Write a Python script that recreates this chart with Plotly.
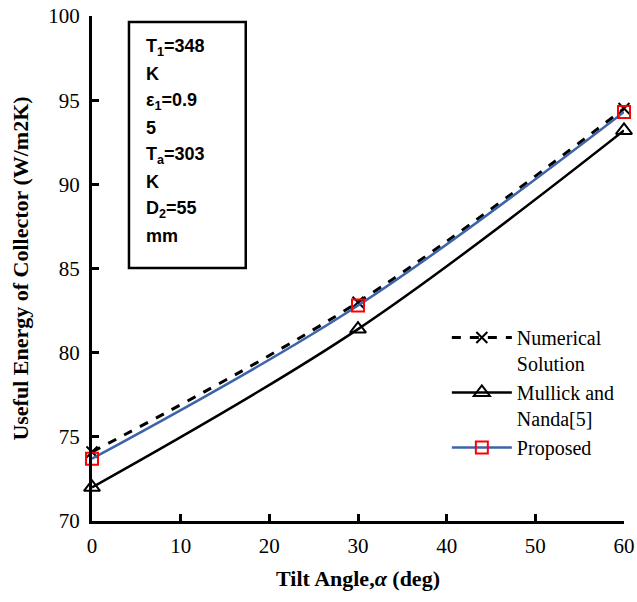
import plotly.graph_objects as go

tilt = [0, 30, 60]
numerical = [74.1, 83.0, 94.5]
mullick = [72.0, 81.4, 93.2]
proposed = [73.7, 82.8, 94.3]

x_ticks = [0, 10, 20, 30, 40, 50, 60]
y_ticks = [70, 75, 80, 85, 90, 95, 100]

box_lines = ["T<sub>1</sub>=348", "K", "ε<sub>1</sub>=0.9", "5",
             "T<sub>a</sub>=303", "K", "D<sub>2</sub>=55", "mm"]

serif = "Liberation Serif"

fig = go.Figure()
fig.add_trace(go.Scatter(
    x=tilt, y=numerical, name="Numerical<br>Solution", mode="lines+markers",
    line=dict(color="black", width=3, dash="dash", shape="spline"),
    marker=dict(symbol="x-thin", size=11, line=dict(color="black", width=2)),
    cliponaxis=False))
fig.add_trace(go.Scatter(
    x=tilt, y=mullick, name="Mullick and<br>Nanda[5]", mode="lines+markers",
    line=dict(color="black", width=2.5, shape="spline"),
    marker=dict(symbol="triangle-up-open", size=14, color="black", line=dict(width=2)),
    cliponaxis=False))
fig.add_trace(go.Scatter(
    x=tilt, y=proposed, name="Proposed", mode="lines+markers",
    line=dict(color="#3d64a8", width=2.5, shape="spline"),
    marker=dict(symbol="square-open", size=12, color="#ff0000", line=dict(width=2)),
    cliponaxis=False))

fig.update_layout(
    width=637, height=602,
    margin=dict(l=92, r=13, t=16, b=81, autoexpand=False),
    paper_bgcolor="white", plot_bgcolor="white",
    font=dict(family=serif, size=21, color="black"),
    showlegend=True,
    legend=dict(x=0.667, y=0.402, xanchor="left", yanchor="top",
                font=dict(family=serif, size=20, color="black"),
                bgcolor="rgba(0,0,0,0)", valign="top", tracegroupgap=0,
                itemwidth=60),
    xaxis=dict(range=[0, 60], tickvals=x_ticks, showgrid=False, zeroline=False,
               showline=True, linecolor="black", linewidth=3, automargin=False,
               ticks="inside", ticklen=7, tickwidth=3, tickcolor="black",
               ticklabelstandoff=4,
               tickfont=dict(family=serif, size=21),
               title=dict(text="<b>Tilt Angle,<i>α</i> (deg)</b>",
                          font=dict(family=serif, size=22), standoff=14)),
    yaxis=dict(range=[70, 100], tickvals=y_ticks, showgrid=False, zeroline=False,
               showline=True, linecolor="black", linewidth=3, automargin=False,
               ticks="inside", ticklen=7, tickwidth=3, tickcolor="black",
               ticklabelstandoff=5,
               tickfont=dict(family=serif, size=21),
               title=dict(text="<b>Useful Energy of Collector (W/m2K)</b>",
                          font=dict(family=serif, size=22), standoff=14)),
)

fig.add_shape(type="rect", xref="paper", yref="paper",
              x0=0.0695, x1=0.289, y0=0.501, y1=0.988,
              line=dict(color="black", width=2.5), fillcolor="white", layer="below")

top_px = 47
step_px = 27.0
for i, t in enumerate(box_lines):
    ypx = top_px + i * step_px
    fig.add_annotation(xref="paper", yref="paper", x=(144 - 92) / 532,
                       y=(521 - ypx) / 505, xanchor="left", yanchor="middle",
                       text="<b>" + t + "</b>", showarrow=False, align="left",
                       font=dict(family="Liberation Sans", size=18, color="black"))

fig.write_html("out.html", config={"displayModeBar": False},
               post_script="document.body.style.margin='0';")
